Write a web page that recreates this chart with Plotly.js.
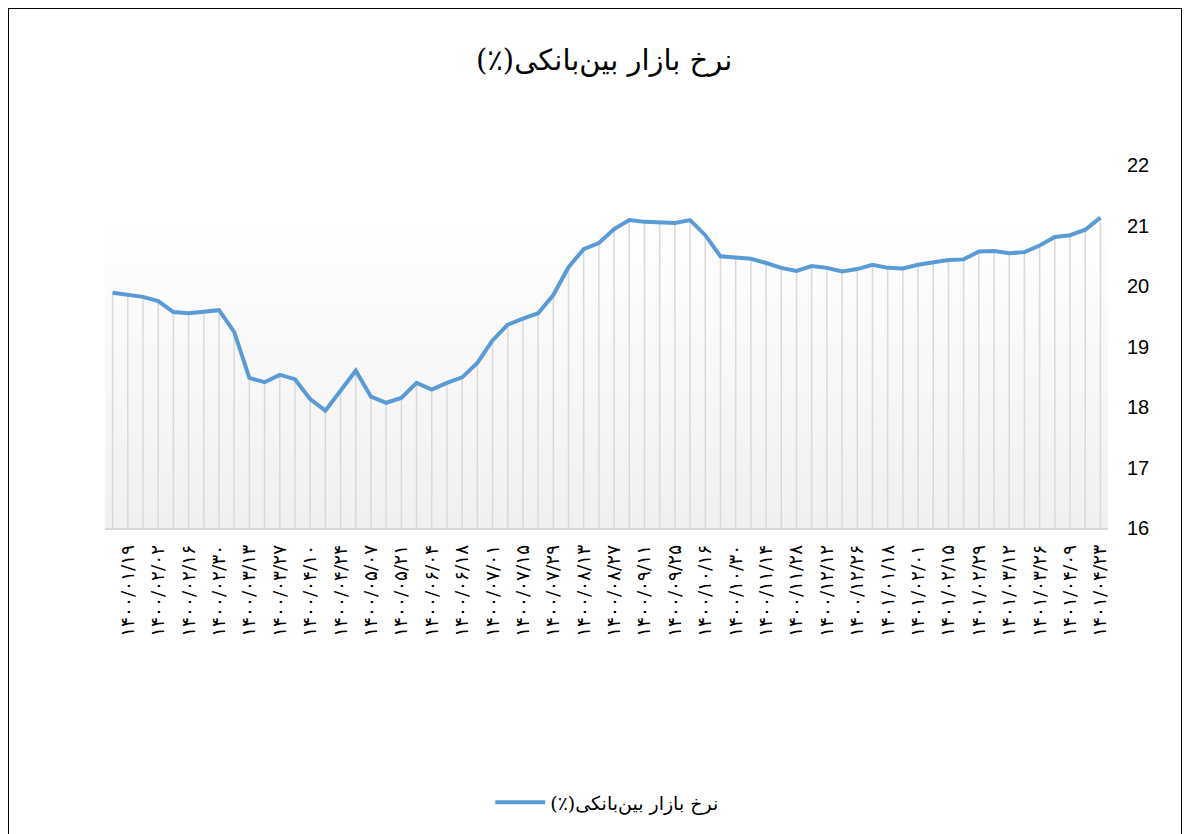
<!DOCTYPE html>
<html>
<head>
<meta charset="utf-8">
<script src="https://cdn.plot.ly/plotly-3.0.1.min.js"></script>
<style>
html,body{margin:0;padding:0;background:#fff;overflow:hidden;}
#chart{width:1187px;height:834px;}
#frame{position:absolute;left:8px;top:8px;width:1172px;height:840px;border:1px solid #000;pointer-events:none;}
</style>
</head>
<body>
<div id="chart"></div>
<div id="frame"></div>
<script>
const chartTitle = "\u202Bنرخ بازار بین\u200cبانکی(٪)\u202C";
const seriesName = "\u202Bنرخ بازار بین\u200cبانکی(٪)\u202C";

const dates = [
"۱۴۰۰/۰۱/۱۲","۱۴۰۰/۰۱/۱۹","۱۴۰۰/۰۱/۲۶","۱۴۰۰/۰۲/۰۲","۱۴۰۰/۰۲/۰۹","۱۴۰۰/۰۲/۱۶","۱۴۰۰/۰۲/۲۳","۱۴۰۰/۰۲/۳۰",
"۱۴۰۰/۰۳/۰۶","۱۴۰۰/۰۳/۱۳","۱۴۰۰/۰۳/۲۰","۱۴۰۰/۰۳/۲۷","۱۴۰۰/۰۴/۰۳","۱۴۰۰/۰۴/۱۰","۱۴۰۰/۰۴/۱۷","۱۴۰۰/۰۴/۲۴",
"۱۴۰۰/۰۴/۳۱","۱۴۰۰/۰۵/۰۷","۱۴۰۰/۰۵/۱۴","۱۴۰۰/۰۵/۲۱","۱۴۰۰/۰۵/۲۸","۱۴۰۰/۰۶/۰۴","۱۴۰۰/۰۶/۱۱","۱۴۰۰/۰۶/۱۸",
"۱۴۰۰/۰۶/۲۵","۱۴۰۰/۰۷/۰۱","۱۴۰۰/۰۷/۰۸","۱۴۰۰/۰۷/۱۵","۱۴۰۰/۰۷/۲۲","۱۴۰۰/۰۷/۲۹","۱۴۰۰/۰۸/۰۶","۱۴۰۰/۰۸/۱۳",
"۱۴۰۰/۰۸/۲۰","۱۴۰۰/۰۸/۲۷","۱۴۰۰/۰۹/۰۴","۱۴۰۰/۰۹/۱۱","۱۴۰۰/۰۹/۱۸","۱۴۰۰/۰۹/۲۵","۱۴۰۰/۱۰/۰۹","۱۴۰۰/۱۰/۱۶",
"۱۴۰۰/۱۰/۲۳","۱۴۰۰/۱۰/۳۰","۱۴۰۰/۱۱/۰۷","۱۴۰۰/۱۱/۱۴","۱۴۰۰/۱۱/۲۱","۱۴۰۰/۱۱/۲۸","۱۴۰۰/۱۲/۰۵","۱۴۰۰/۱۲/۱۲",
"۱۴۰۰/۱۲/۱۹","۱۴۰۰/۱۲/۲۶","۱۴۰۱/۰۱/۱۱","۱۴۰۱/۰۱/۱۸","۱۴۰۱/۰۱/۲۵","۱۴۰۱/۰۲/۰۱","۱۴۰۱/۰۲/۰۸","۱۴۰۱/۰۲/۱۵",
"۱۴۰۱/۰۲/۲۲","۱۴۰۱/۰۲/۲۹","۱۴۰۱/۰۳/۰۵","۱۴۰۱/۰۳/۱۲","۱۴۰۱/۰۳/۱۹","۱۴۰۱/۰۳/۲۶","۱۴۰۱/۰۴/۰۲","۱۴۰۱/۰۴/۰۹",
"۱۴۰۱/۰۴/۱۶","۱۴۰۱/۰۴/۲۳"
];

const tickLabels = [
"۱۴۰۰/۰۱/۱۹","۱۴۰۰/۰۲/۰۲","۱۴۰۰/۰۲/۱۶","۱۴۰۰/۰۲/۳۰","۱۴۰۰/۰۳/۱۳","۱۴۰۰/۰۳/۲۷","۱۴۰۰/۰۴/۱۰","۱۴۰۰/۰۴/۲۴",
"۱۴۰۰/۰۵/۰۷","۱۴۰۰/۰۵/۲۱","۱۴۰۰/۰۶/۰۴","۱۴۰۰/۰۶/۱۸","۱۴۰۰/۰۷/۰۱","۱۴۰۰/۰۷/۱۵","۱۴۰۰/۰۷/۲۹","۱۴۰۰/۰۸/۱۳",
"۱۴۰۰/۰۸/۲۷","۱۴۰۰/۰۹/۱۱","۱۴۰۰/۰۹/۲۵","۱۴۰۰/۱۰/۱۶","۱۴۰۰/۱۰/۳۰","۱۴۰۰/۱۱/۱۴","۱۴۰۰/۱۱/۲۸","۱۴۰۰/۱۲/۱۲",
"۱۴۰۰/۱۲/۲۶","۱۴۰۱/۰۱/۱۸","۱۴۰۱/۰۲/۰۱","۱۴۰۱/۰۲/۱۵","۱۴۰۱/۰۲/۲۹","۱۴۰۱/۰۳/۱۲","۱۴۰۱/۰۳/۲۶","۱۴۰۱/۰۴/۰۹",
"۱۴۰۱/۰۴/۲۳"
];

const rates = [
19.89,19.86,19.82,19.75,19.57,19.55,19.58,19.60,19.24,18.48,18.41,18.53,18.46,18.13,17.94,18.28,
18.60,18.17,18.07,18.15,18.40,18.29,18.40,18.49,18.73,19.10,19.36,19.46,19.55,19.85,20.31,20.61,
20.71,20.94,21.09,21.06,21.05,21.04,21.09,20.84,20.49,20.47,20.45,20.38,20.30,20.25,20.33,20.30,
20.24,20.28,20.35,20.30,20.29,20.35,20.39,20.43,20.44,20.57,20.58,20.54,20.56,20.67,20.81,20.84,
20.93,21.13
];

const yRange = [16, 22];
const fillTop = 21.2;

// gradient backdrop bands (styling only)
const shapes = [];
const nBands = 40;
for (let i = 0; i < nBands; i++) {
  const t = i / (nBands - 1);
  const c = Math.round(240 + 15 * t);
  shapes.push({
    type: 'rect', xref: 'paper', yref: 'y', layer: 'below',
    x0: 0, x1: 1,
    y0: yRange[0] + (fillTop - yRange[0]) * i / nBands,
    y1: yRange[0] + (fillTop - yRange[0]) * (i + 1) / nBands,
    fillcolor: `rgb(${c},${c},${c})`, line: {width: 0}
  });
}

const trace = {
  type: 'scatter', mode: 'lines', name: seriesName,
  x: dates, y: rates,
  line: {color: '#5B9BD5', width: 4},
  error_y: {
    type: 'data', symmetric: false,
    array: rates.map(() => 0),
    arrayminus: rates.map(v => v - yRange[0]),
    color: '#d9d9d9', thickness: 1.5, width: 0
  },
  hoverinfo: 'x+y'
};

const layout = {
  width: 1187, height: 834,
  paper_bgcolor: '#ffffff', plot_bgcolor: 'rgba(0,0,0,0)',
  margin: {l: 105, r: 79, t: 165, b: 306},
  font: {family: 'DejaVu Sans, sans-serif', color: '#000'},
  title: {
    text: chartTitle,
    font: {family: 'DejaVu Serif, DejaVu Sans, serif', size: 29, color: '#000'},
    xref: 'container', yref: 'container', x: 0.509, y: 0.928,
    xanchor: 'center', yanchor: 'middle'
  },
  xaxis: {
    type: 'category', range: [-0.5, dates.length - 0.5],
    tickmode: 'array', tickvals: tickLabels, ticktext: tickLabels,
    tickangle: -90, ticks: '', showgrid: false, zeroline: false,
    showline: true, linecolor: '#d9d9d9', linewidth: 1.5,
    tickfont: {family: 'DejaVu Sans, sans-serif', size: 18.5, color: '#000'},
    ticklabelstandoff: 8, automargin: false
  },
  yaxis: {
    side: 'right', range: yRange, dtick: 1, tick0: 16,
    showgrid: false, zeroline: false, showline: false, ticks: '',
    tickfont: {family: 'Liberation Sans, Arial, sans-serif', size: 20, color: '#000'},
    ticklabelstandoff: 18, automargin: false
  },
  showlegend: true,
  legend: {
    orientation: 'h', xref: 'container', yref: 'container',
    x: 0.413, y: 0.038, xanchor: 'left', yanchor: 'middle',
    font: {family: 'DejaVu Serif, DejaVu Sans, serif', size: 19, color: '#000'},
    itemwidth: 50, bgcolor: 'rgba(0,0,0,0)'
  },
  shapes: shapes
};

Plotly.newPlot('chart', [trace], layout, {displayModeBar: false, staticPlot: true});
</script>
</body>
</html>
